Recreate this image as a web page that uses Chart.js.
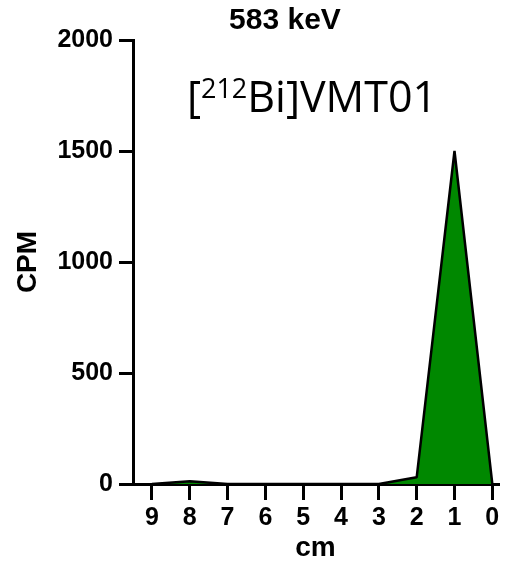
<!DOCTYPE html>
<html>
<head>
<meta charset="utf-8">
<script src="https://cdn.jsdelivr.net/npm/chart.js@4"></script>
<style>
  html, body { margin: 0; padding: 0; background: #fff; }
  #chart { display: block; }
</style>
</head>
<body>
<canvas id="chart" width="505" height="575"></canvas>
<script>
// distance (cm) and counts per minute
const distances = [9, 8, 7, 6, 5, 4, 3, 2, 1, 0];
const cpm = [0, 12, 0, 0, 0, 0, 0, 30, 1500, 0];
const xTicks = [0, 1, 2, 3, 4, 5, 6, 7, 8, 9];
const yTicks = [0, 500, 1000, 1500, 2000];
const chartTitle = "583 keV";

const boldFont = size => ({ family: "'Liberation Sans', Arial, sans-serif", size: size, weight: "bold" });

// title over the plot and the "[212Bi]VMT01" label with a superscript mass number
const labelPlugin = {
  id: "isotopeLabel",
  afterDraw(chart) {
    const ctx = chart.ctx;
    ctx.save();
    ctx.fillStyle = "#000";
    ctx.textAlign = "center";
    ctx.textBaseline = "middle";
    ctx.font = "bold 30px 'Liberation Sans', Arial, sans-serif";
    ctx.fillText(chartTitle, 285, 21);

    const big = "43px 'Open Sans', sans-serif";
    const small = "27px 'Open Sans', sans-serif";
    const parts = [["[", big, 0], ["212", small, -14], ["Bi]VMT01", big, 0]];
    let total = 0;
    parts.forEach(p => { ctx.font = p[1]; total += ctx.measureText(p[0]).width; });
    let x = 312 - total / 2;
    const base = 112;
    ctx.textBaseline = "alphabetic";
    ctx.textAlign = "left";
    parts.forEach(p => {
      ctx.font = p[1];
      ctx.fillText(p[0], x, base + p[2]);
      x += ctx.measureText(p[0]).width;
    });
    ctx.restore();
  }
};

const ctx = document.getElementById("chart").getContext("2d");

new Chart(ctx, {
  type: "line",
  data: {
    datasets: [{
      data: distances.map((d, i) => ({ x: d, y: cpm[i] })),
      fill: "origin",
      backgroundColor: "#008800",
      borderColor: "#000",
      borderWidth: 2.5,
      borderJoinStyle: "bevel",
      pointRadius: 0,
      tension: 0
    }]
  },
  options: {
    responsive: false,
    animation: false,
    layout: { padding: { left: 0, right: 7, top: 40, bottom: 0 } },
    plugins: {
      legend: { display: false },
      tooltip: { enabled: false },
      title: { display: false }
    },
    scales: {
      x: {
        type: "linear",
        reverse: true,
        min: -0.15,
        max: 9.5,
        afterBuildTicks: s => { s.ticks = xTicks.map(v => ({ value: v })); },
        afterFit: s => { s.height = 91; },
        border: { color: "#000", width: 3 },
        grid: { drawOnChartArea: false, tickLength: 16, tickColor: "#000", tickWidth: 3, lineWidth: 3 },
        ticks: { color: "#000", font: boldFont(25), padding: 3, maxRotation: 0, autoSkip: false },
        title: { display: true, text: "cm", color: "#000", font: boldFont(28), padding: { top: 0, bottom: 10 } }
      },
      y: {
        min: 0,
        max: 2000,
        afterBuildTicks: s => { s.ticks = yTicks.map(v => ({ value: v })); },
        afterFit: s => { s.width = 133; },
        border: { color: "#000", width: 3 },
        grid: { drawOnChartArea: false, tickLength: 14, tickColor: "#000", tickWidth: 3, lineWidth: 3 },
        ticks: { color: "#000", font: boldFont(25), padding: 6, callback: v => String(v) },
        title: { display: true, text: "CPM", color: "#000", font: boldFont(28), padding: { top: 11, bottom: 0 } }
      }
    }
  },
  plugins: [labelPlugin]
});
</script>
</body>
</html>
